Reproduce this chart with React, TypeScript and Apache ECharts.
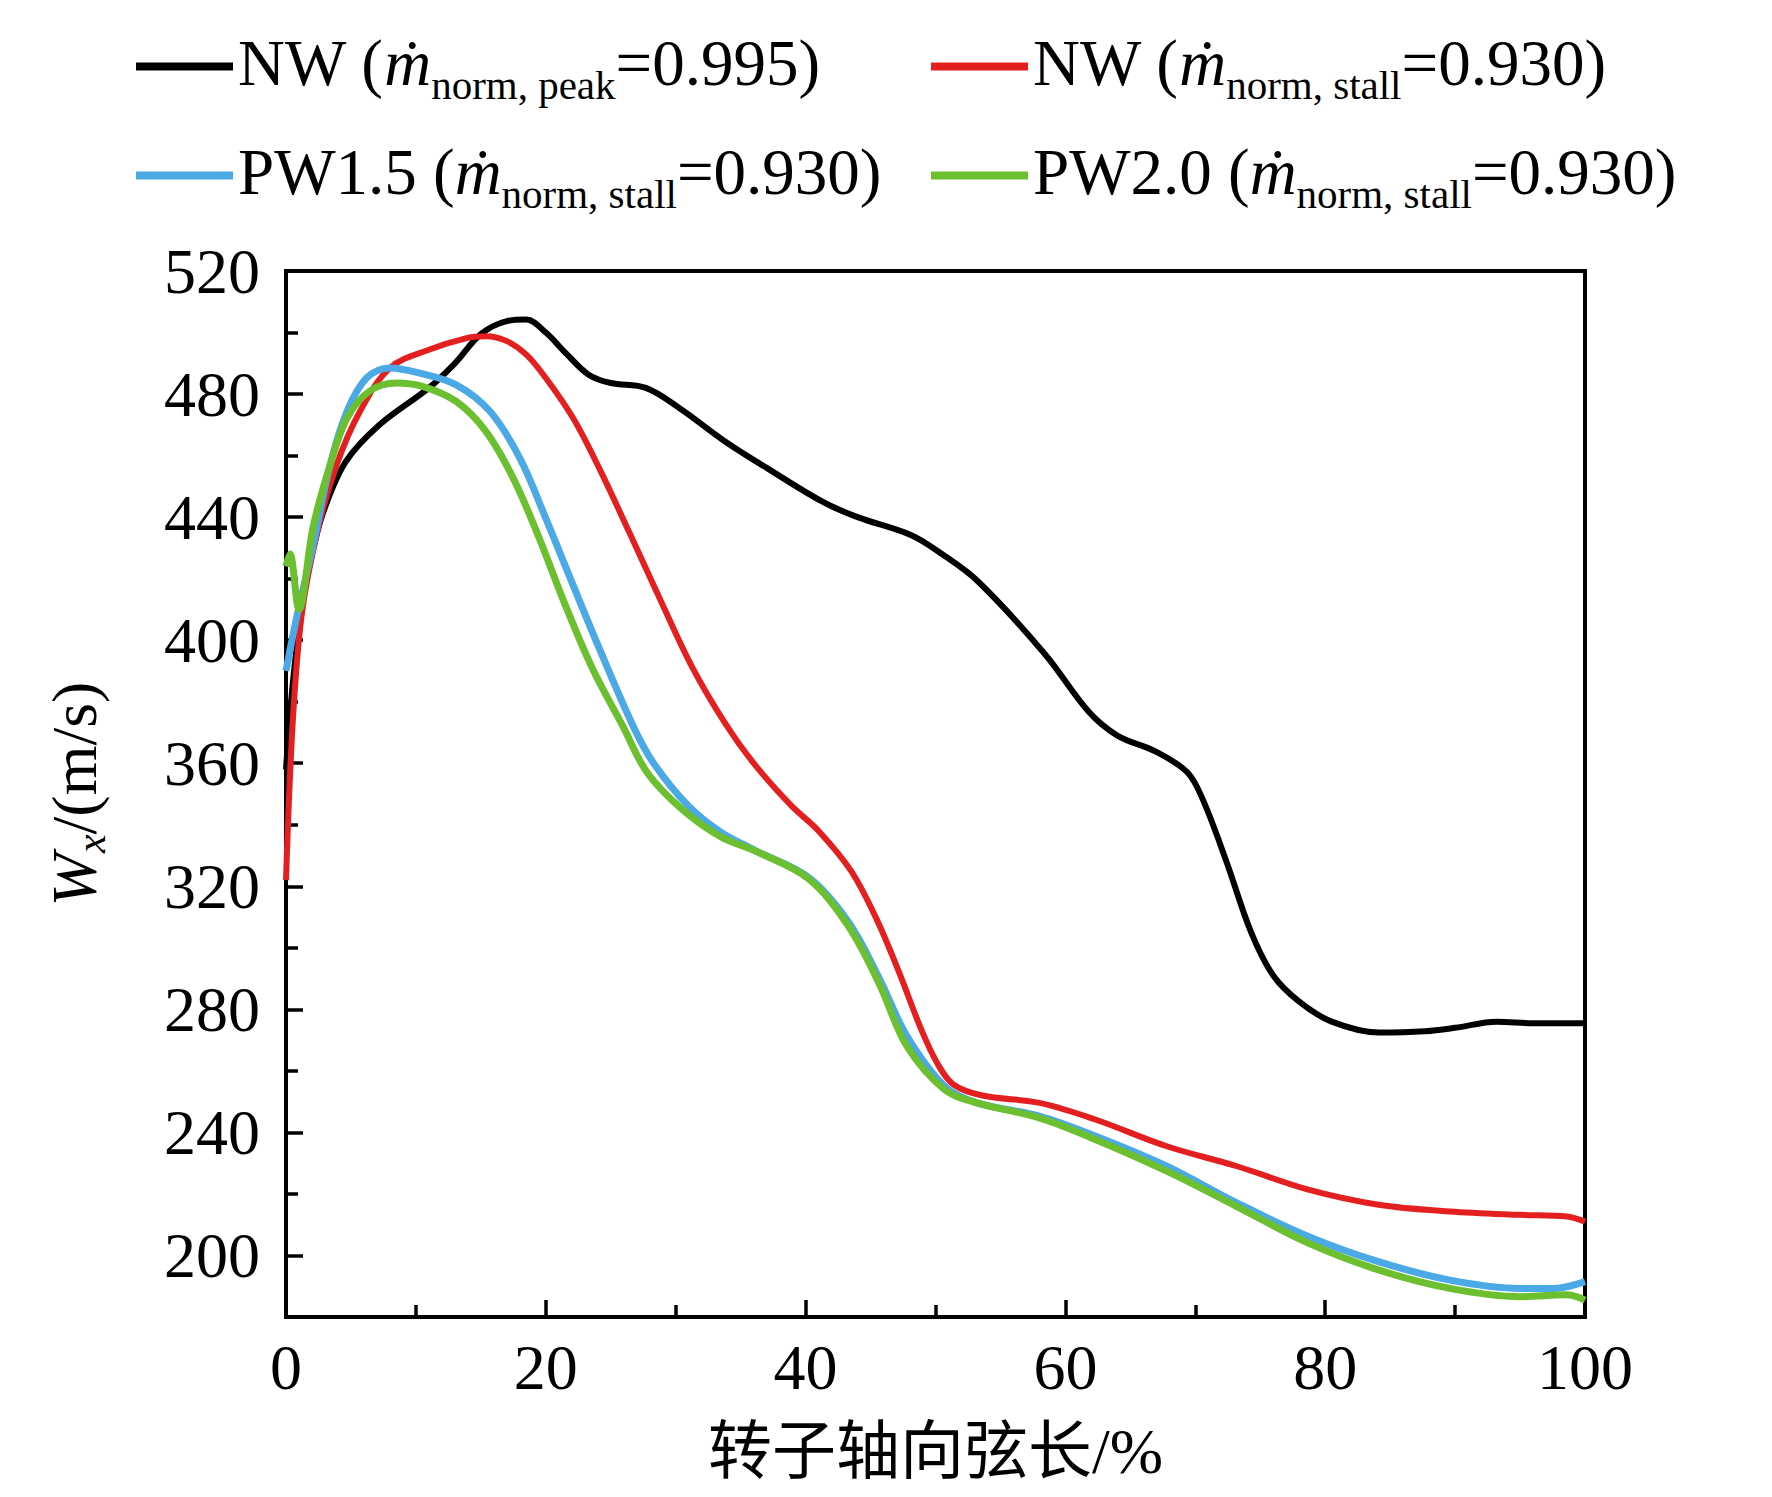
import React, { useEffect, useRef } from "react";
import * as echarts from "echarts";

// ---- data ----
const nwPeakX = [0, 0.5, 1.2, 2, 2.9, 4.6, 7.2, 11, 13, 15, 17, 18.5, 20, 21.5, 23.3, 25, 27.7, 30.3, 33.8, 37, 41.3, 44, 48.1, 50.5, 53.3, 58.4, 61.8, 64, 67, 69.4, 70.6, 72.4, 74.3, 76, 78, 80.5, 84.1, 87.7, 90, 93.2, 96, 100];
const nwPeakY = [358, 385, 410, 428, 442, 458, 470, 482, 490, 499.5, 503.7, 504.2, 500, 493.5, 486.3, 483.6, 482, 475.4, 464.6, 456, 445, 440, 434.2, 428, 419, 395.6, 376.7, 369, 363.7, 357, 348, 328, 305, 291, 282.5, 276, 272.5, 272.9, 274, 276, 275.5, 275.5];

const nwStallX = [0, 0.5, 1.2, 2.4, 3.9, 5.7, 8, 11, 13.9, 15.4, 17, 18.5, 20, 22.1, 24.1, 26.4, 29, 31.3, 33.8, 36, 38.9, 41, 43.5, 45.5, 47.2, 48.9, 50.2, 51.4, 53.6, 58, 62.3, 67.8, 73.2, 78.7, 84.1, 89.6, 95, 98.6, 100];
const nwStallY = [322, 372, 408, 435, 457, 474.4, 488.5, 494.4, 498.2, 498.8, 497.2, 492.8, 485.2, 472.2, 456, 435.3, 411.4, 391, 373, 360, 346.2, 338, 325, 309, 292, 273.5, 262, 255.5, 252, 249.6, 244.2, 235.5, 229, 221.4, 216.5, 214.3, 213.2, 212.7, 211];

const pw15X = [0, 0.8, 2.1, 3.4, 4.7, 6.2, 8, 10.3, 13.1, 15.7, 18, 20, 22.1, 24.1, 26.7, 28.3, 31, 33.5, 36.1, 40.2, 43.3, 45.7, 47.8, 50.7, 53.2, 58, 62.3, 67.8, 73.2, 78.7, 84.1, 89.6, 95, 97.6, 100];
const pw15Y = [390, 407, 431, 457, 474.4, 485.2, 488.5, 486.8, 483, 474.4, 459.2, 439.6, 417.9, 397.5, 372.3, 360, 346, 337.5, 331.7, 323, 308.4, 289.8, 271.3, 255, 249.6, 245.3, 238.8, 229, 217.1, 206.2, 198, 192, 189.3, 189.3, 191.5];

const pw20X = [0, 0.3, 1, 2.1, 3.4, 4.7, 6.45, 8.5, 10.5, 13.1, 15.4, 17.5, 19.5, 21.5, 23.6, 25.9, 27.8, 30.5, 33.5, 36.1, 40.2, 43.3, 45.7, 47.8, 50.7, 53.2, 58, 62.3, 67.8, 73.2, 78.7, 84.1, 89.6, 95, 98.6, 100];
const pw20Y = [424, 428, 410, 437, 457, 472.2, 481, 483.6, 482.5, 477.6, 467.8, 452.6, 433.1, 411.4, 390.7, 372.3, 357, 345, 336, 331.5, 322.5, 307, 288, 268, 253.9, 249.6, 244.7, 237.7, 227.4, 215.9, 204, 195.3, 189.3, 186.6, 187.2, 185.5];

const seriesNames = [
  "NW (ṁnorm, peak=0.995)",
  "NW (ṁnorm, stall=0.930)",
  "PW1.5 (ṁnorm, stall=0.930)",
  "PW2.0 (ṁnorm, stall=0.930)",
];
const legendPrefix = ["NW (", "NW (", "PW1.5 (", "PW2.0 ("];
const legendSub = ["norm, peak", "norm, stall", "norm, stall", "norm, stall"];
const legendValue = ["=0.995)", "=0.930)", "=0.930)", "=0.930)"];
const seriesColors = ["#000000", "#e41f1f", "#4ba9e6", "#6cbf2f"];

const xTickValues = [0, 20, 40, 60, 80, 100];
const yTickValues = [200, 240, 280, 320, 360, 400, 440, 480, 520];
const yMinorTickValues = [220, 260, 300, 340, 380, 420, 460, 500];

const SERIF = "'Liberation Serif', 'Times New Roman', serif";
const CJK = "'Liberation Serif', 'Noto Sans CJK SC', serif";

function zip(xs: number[], ys: number[]) {
  return xs.map((x, i) => [x, ys[i]]);
}

export default function App() {
  const ref = useRef<HTMLDivElement>(null);
  useEffect(() => {
    if (!ref.current) return;
    const chart = echarts.init(ref.current, null, { renderer: "svg" });
    const data = [zip(nwPeakX, nwPeakY), zip(nwStallX, nwStallY), zip(pw15X, pw15Y), zip(pw20X, pw20Y)];
    const widths = [6, 6, 7, 7];
    const legendPos = [
      { left: 136, top: 28 },
      { left: 931, top: 28 },
      { left: 136, top: 137 },
      { left: 931, top: 137 },
    ];
    const rich = {
      a: { fontFamily: SERIF, fontSize: 65, color: "#000", lineHeight: 72, padding: [0, 0, 8, 0] },
      m: { fontFamily: SERIF, fontSize: 65, fontStyle: "italic", color: "#000", lineHeight: 72, padding: [0, 0, 8, 0] },
      s: { fontFamily: SERIF, fontSize: 41, color: "#000", lineHeight: 41, padding: [36, 0, 0, 0] },
    };
    const option: any = {
      animation: false,
      backgroundColor: "#fff",
      legend: seriesNames.map((n, i) => ({
        data: [n],
        left: legendPos[i].left,
        top: legendPos[i].top,
        padding: 0,
        icon: "rect",
        itemWidth: 97,
        itemHeight: 8,
        textStyle: { rich },
        formatter: (name: string) => {
          const k = seriesNames.indexOf(name);
          return `{a|${legendPrefix[k]}}{m|ṁ}{s|${legendSub[k]}}{a|${legendValue[k]}}`;
        },
      })),
      grid: {
        left: 286,
        right: 187,
        top: 271,
        bottom: 180,
        show: true,
        borderColor: "#000",
        borderWidth: 4,
        backgroundColor: "transparent",
      },
      xAxis: {
        type: "value",
        min: 0,
        max: 100,
        interval: 20,
        name: "转子轴向弦长/%",
        nameLocation: "middle",
        nameGap: 102,
        nameTextStyle: { fontFamily: CJK, fontSize: 64, color: "#000" },
        axisLine: { show: true, lineStyle: { color: "#000", width: 4 } },
        axisTick: { show: true, inside: true, length: 17, lineStyle: { color: "#000", width: 3.5 } },
        minorTick: { show: true, splitNumber: 2, length: 12, lineStyle: { color: "#000", width: 3.5 } },
        splitLine: { show: false },
        axisLabel: {
          customValues: xTickValues,
          margin: 18,
          fontFamily: SERIF,
          fontSize: 64,
          color: "#000",
        },
      },
      yAxis: [
        {
          type: "value",
          min: 180,
          max: 520,
          interval: 20,
          name: "{i|W}{s|x}{a|/(m/s)}",
          nameLocation: "middle",
          nameRotate: 90,
          nameGap: 180,
          nameTextStyle: {
            rich: {
              i: { fontFamily: SERIF, fontSize: 64, fontStyle: "italic", color: "#000" },
              s: { fontFamily: SERIF, fontSize: 42, fontStyle: "italic", color: "#000", lineHeight: 42, padding: [34, 0, 0, 0] },
              a: { fontFamily: SERIF, fontSize: 64, color: "#000" },
            },
          },
          axisLine: { show: true, lineStyle: { color: "#000", width: 4 } },
          axisTick: {
            show: true,
            inside: true,
            length: 17,
            customValues: yTickValues,
            lineStyle: { color: "#000", width: 3.5 },
          },
          splitLine: { show: false },
          axisLabel: {
            customValues: yTickValues,
            margin: 26,
            fontFamily: SERIF,
            fontSize: 64,
            color: "#000",
          },
        },
        {
          type: "value",
          min: 180,
          max: 520,
          interval: 20,
          position: "left",
          axisLine: { show: false },
          axisTick: {
            show: true,
            inside: true,
            length: 12,
            customValues: yMinorTickValues,
            lineStyle: { color: "#000", width: 3.5 },
          },
          axisLabel: { show: false },
          splitLine: { show: false },
        },
      ],
      series: seriesNames.map((n, i) => ({
        name: n,
        type: "line",
        data: data[i],
        smooth: 0.35,
        symbol: "none",
        color: seriesColors[i],
        lineStyle: { color: seriesColors[i], width: widths[i] },
        z: 2 + i,
      })),
    };
    chart.setOption(option);
    return () => chart.dispose();
  }, []);
  return (
    <div
      ref={ref}
      style={{ position: "absolute", left: 0, top: 0, width: 1772, height: 1497, background: "#fff" }}
    />
  );
}
